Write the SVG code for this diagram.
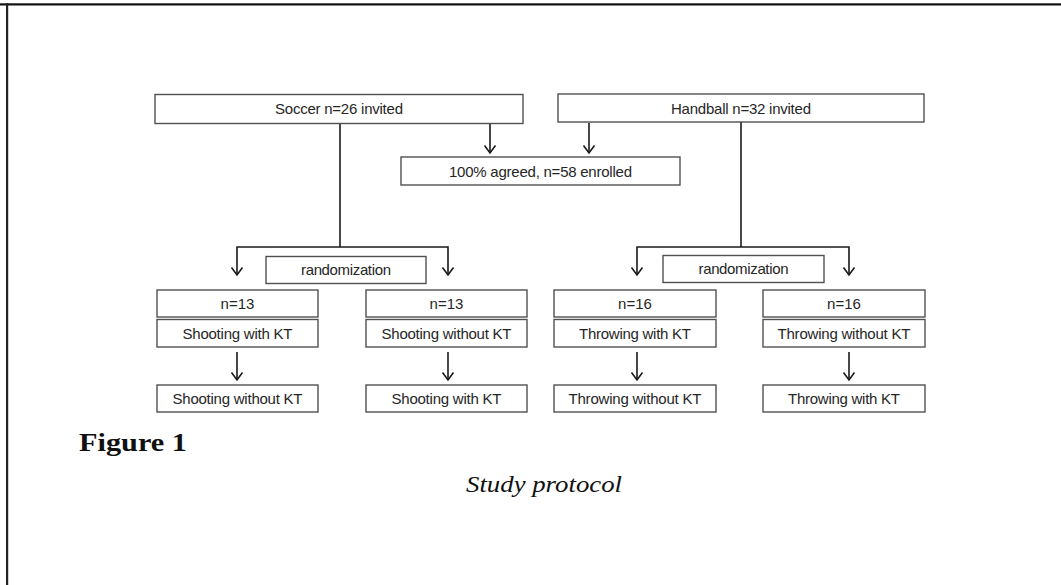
<svg xmlns="http://www.w3.org/2000/svg" width="1061" height="585" viewBox="0 0 1061 585">
<defs>
<marker id="ah" markerWidth="14" markerHeight="14" refX="12" refY="7" orient="auto-start-reverse" markerUnits="userSpaceOnUse" viewBox="0 0 14 14">
<path d="M4.5,1.5 L12,7 L4.5,12.5" fill="none" stroke="#1a1a1a" stroke-width="1.6"/>
</marker>
<style>
.box{fill:#fff;stroke:#505050;stroke-width:1.4}
.t{font-family:"Liberation Sans",Arial,sans-serif;font-size:15px;fill:#262626;text-anchor:middle}
.c{fill:none;stroke:#1a1a1a;stroke-width:1.6}
.a{fill:none;stroke:#1a1a1a;stroke-width:1.6;marker-end:url(#ah)}
</style>
</defs>
<rect width="1061" height="585" fill="#fff"/>
<g id="frame">
<rect x="0" y="3.3" width="1061" height="2.2" fill="#111"/>
<rect x="6" y="3.3" width="2.2" height="582" fill="#222"/>
</g>
<g id="connectors">
<line class="a" x1="490" y1="124" x2="490" y2="153"/>
<line class="a" x1="589" y1="123" x2="589" y2="153"/>
<polyline class="c" points="340,124 340,247"/>
<polyline class="c" points="237,275 237,247 448,247 448,275" marker-start="url(#ah)" marker-end="url(#ah)"/>
<polyline class="c" points="741,122 741,247"/>
<polyline class="c" points="637,275 637,247 849,247 849,275" marker-start="url(#ah)" marker-end="url(#ah)"/>
<line class="a" x1="237" y1="352" x2="237" y2="380"/>
<line class="a" x1="448" y1="352" x2="448" y2="380"/>
<line class="a" x1="637" y1="352" x2="637" y2="380"/>
<line class="a" x1="849" y1="352" x2="849" y2="380"/>
</g>
<g id="soccer"><rect class="box" x="155" y="94.5" width="368" height="29"/><text class="t" x="339" y="114" textLength="128">Soccer n=26 invited</text></g>
<g id="handball"><rect class="box" x="558" y="94" width="366" height="28"/><text class="t" x="741" y="113.5" textLength="140">Handball n=32 invited</text></g>
<g id="enrolled"><rect class="box" x="401" y="157" width="279" height="28"/><text class="t" x="540.5" y="176.5" textLength="183">100% agreed, n=58 enrolled</text></g>
<g id="rand1"><rect class="box" x="266" y="256.5" width="160" height="27"/><text class="t" x="346" y="275" textLength="90">randomization</text></g>
<g id="rand2"><rect class="box" x="663" y="255.5" width="161" height="27"/><text class="t" x="743.5" y="274" textLength="90">randomization</text></g>
<g id="n1"><rect class="box" x="157" y="290" width="161" height="27"/><text class="t" x="237.5" y="308.5">n=13</text></g>
<g id="n2"><rect class="box" x="366" y="290" width="161" height="27"/><text class="t" x="446.5" y="308.5">n=13</text></g>
<g id="n3"><rect class="box" x="554" y="290" width="162" height="27"/><text class="t" x="635" y="308.5">n=16</text></g>
<g id="n4"><rect class="box" x="763" y="290" width="162" height="27"/><text class="t" x="844" y="308.5">n=16</text></g>
<g id="g1a"><rect class="box" x="157" y="319.5" width="161" height="27.5"/><text class="t" x="237.5" y="338.5" textLength="110">Shooting with KT</text></g>
<g id="g2a"><rect class="box" x="366" y="319.5" width="161" height="27.5"/><text class="t" x="446.5" y="338.5" textLength="130">Shooting without KT</text></g>
<g id="g3a"><rect class="box" x="554" y="319.5" width="162" height="27.5"/><text class="t" x="635" y="338.5" textLength="112">Throwing with KT</text></g>
<g id="g4a"><rect class="box" x="763" y="319.5" width="162" height="27.5"/><text class="t" x="844" y="338.5" textLength="133">Throwing without KT</text></g>
<g id="g1b"><rect class="box" x="157" y="385" width="161" height="27"/><text class="t" x="237.5" y="403.5" textLength="130">Shooting without KT</text></g>
<g id="g2b"><rect class="box" x="366" y="385" width="161" height="27"/><text class="t" x="446.5" y="403.5" textLength="110">Shooting with KT</text></g>
<g id="g3b"><rect class="box" x="554" y="385" width="162" height="27"/><text class="t" x="635" y="403.5" textLength="133">Throwing without KT</text></g>
<g id="g4b"><rect class="box" x="763" y="385" width="162" height="27"/><text class="t" x="844" y="403.5" textLength="112">Throwing with KT</text></g>
<g id="caption">
<text x="79" y="451" font-family="'Liberation Serif','Times New Roman',serif" font-weight="bold" font-size="25" fill="#111" textLength="108" lengthAdjust="spacingAndGlyphs">Figure 1</text>
<text x="466" y="492" font-family="'Liberation Serif','Times New Roman',serif" font-style="italic" font-size="23" fill="#111" textLength="156" lengthAdjust="spacingAndGlyphs">Study protocol</text>
</g>
</svg>
